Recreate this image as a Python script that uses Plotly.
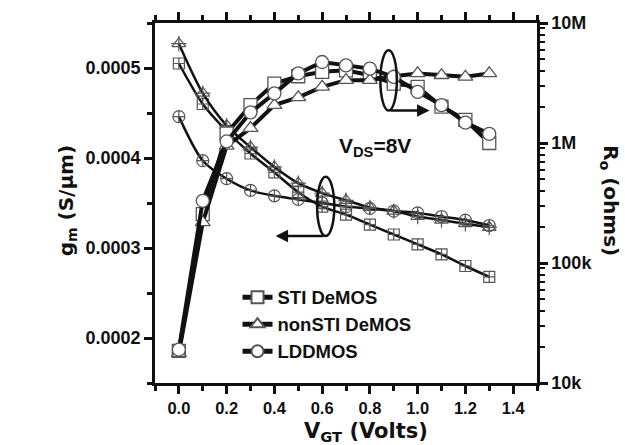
import plotly.graph_objects as go

# Gate overdrive voltage (V)
vgt = [0.0, 0.1, 0.2, 0.3, 0.4, 0.5, 0.6, 0.7, 0.8, 0.9, 1.0, 1.1, 1.2, 1.3]

# Transconductance g_m (S/um)
gm_sti = [0.000505, 0.000460, 0.000430, 0.000405, 0.000384, 0.000362, 0.000346,
          0.000337, 0.000326, 0.000315, 0.000304, 0.000293, 0.000280, 0.000268]
gm_nonsti = [0.000527, 0.000472, 0.000436, 0.000412, 0.000390, 0.000372, 0.000361,
             0.000353, 0.000345, 0.000341, 0.000335, 0.000331, 0.000327, 0.000323]
gm_ldd = [0.000446, 0.000397, 0.000377, 0.000364, 0.000358, 0.000354, 0.000350,
          0.000346, 0.000344, 0.000341, 0.000339, 0.000335, 0.000331, 0.000325]

# Output resistance R_o (ohms)
ro_sti = [18.5e3, 255e3, 1.2e6, 2.07e6, 3.13e6, 3.6e6, 3.92e6,
          4.03e6, 3.67e6, 3.13e6, 2.94e6, 2.01e6, 1.56e6, 1.0e6]
ro_nonsti = [17.7e3, 218e3, 0.945e6, 1.33e6, 2.07e6, 2.4e6, 2.94e6,
             3.34e6, 3.34e6, 3.6e6, 3.8e6, 3.67e6, 3.56e6, 3.8e6]
ro_ldd = [19e3, 330e3, 1.03e6, 1.8e6, 2.59e6, 3.8e6, 4.73e6,
          4.43e6, 4.17e6, 3.56e6, 2.67e6, 2.07e6, 1.48e6, 1.19e6]

names = ["STI DeMOS", "nonSTI DeMOS", "LDDMOS"]
ro_tick_vals = [1e4, 1e5, 1e6, 1e7]
ro_tick_text = ["10k", "100k", "1M", "10M"]

FONT = "Liberation Sans, Arial, sans-serif"
WIDE = "DejaVu Sans, Verdana, sans-serif"
INK = "#111111"
MK = "#555555"

fig = go.Figure()

# g_m curves (left axis): smooth lines with crossed markers
gm_sets = [(gm_sti, "square-cross-open", 11), (gm_nonsti, "triangle-up-open", 12),
           (gm_ldd, "circle-cross-open", 12)]
for vals, sym, sz in gm_sets:
    fig.add_trace(go.Scatter(
        x=vgt, y=vals, mode="lines+markers", showlegend=False,
        line=dict(color=INK, width=2.5, shape="spline", smoothing=0.8),
        marker=dict(symbol=sym, size=sz, color=MK, line=dict(width=1.2, color=MK)),
        yaxis="y"))
# cross inside the triangles
fig.add_trace(go.Scatter(
    x=vgt, y=gm_nonsti, mode="markers", showlegend=False,
    marker=dict(symbol="cross-thin-open", size=11, color=MK, line=dict(width=1.2, color=MK)),
    yaxis="y"))

# R_o curves (right axis, log scale)
ro_sets = [(ro_sti, "square"), (ro_nonsti, "triangle-up"), (ro_ldd, "circle")]
for name, (vals, sym) in zip(names, ro_sets):
    fig.add_trace(go.Scatter(
        x=vgt, y=vals, mode="lines+markers", name=name,
        line=dict(color=INK, width=4),
        marker=dict(symbol=sym, size=13, color="white", line=dict(width=1.3, color=MK)),
        yaxis="y2"))

def bold(size, family=FONT):
    return dict(family=family, size=size, color=INK, weight="bold")

fig.update_layout(
    width=625, height=445,
    margin=dict(l=155, r=88, t=20, b=62),
    paper_bgcolor="white", plot_bgcolor="white",
    showlegend=True,
    legend=dict(x=0.216, y=0.29, xanchor="left", yanchor="top",
                bgcolor="rgba(0,0,0,0)", font=bold(18.5),
                tracegroupgap=0, itemsizing="constant"),
    xaxis=dict(range=[-0.1, 1.5], tickvals=[0.0, 0.2, 0.4, 0.6, 0.8, 1.0, 1.2, 1.4],
               tickformat=".1f", ticks="outside", ticklen=8, tickwidth=2.5, tickcolor=INK,
               minor=dict(ticks="outside", ticklen=5, tickwidth=2.5, dtick=0.1, tickcolor=INK),
               showline=True, linewidth=2.5, linecolor=INK, mirror="ticks",
               showgrid=False, zeroline=False, tickfont=bold(16.5)),
    yaxis=dict(range=[0.00015, 0.00055], tickvals=[0.0002, 0.0003, 0.0004, 0.0005],
               tickformat=".4f", ticks="outside", ticklen=8, tickwidth=2.5, tickcolor=INK,
               minor=dict(ticks="outside", ticklen=5, tickwidth=2.5, dtick=0.00005, tickcolor=INK),
               showline=True, linewidth=2.5, linecolor=INK,
               showgrid=False, zeroline=False, tickfont=bold(18)),
    yaxis2=dict(type="log", range=[4, 7], overlaying="y", side="right",
                tickvals=ro_tick_vals, ticktext=ro_tick_text,
                ticks="outside", ticklen=8, tickwidth=2.5, tickcolor=INK,
                minor=dict(ticks="outside", ticklen=5, tickwidth=2, dtick="D1", tickcolor=INK),
                showline=True, linewidth=2.5, linecolor=INK,
                showgrid=False, zeroline=False, tickfont=bold(18)),
)

# axis titles
fig.add_annotation(xref="paper", yref="paper", x=0.552, y=-0.135,
                   xanchor="center", yanchor="middle",
                   text="V<sub>GT</sub> (Volts)", showarrow=False, font=bold(21, WIDE))
fig.add_annotation(xref="paper", yref="paper", x=-0.230, y=0.505, textangle=-90,
                   xanchor="center", yanchor="middle",
                   text="g<sub>m</sub> (S/\u03bcm)", showarrow=False, font=bold(20, WIDE))
fig.add_annotation(xref="paper", yref="paper", x=1.191, y=0.505, textangle=90,
                   xanchor="center", yanchor="middle",
                   text="R<sub>o</sub> (ohms)", showarrow=False, font=bold(20, WIDE))

fig.add_annotation(xref="x", yref="y", x=0.82, y=0.000412, text="V<sub>DS</sub>=8V",
                   showarrow=False, font=bold(21))

# ellipse grouping the R_o curves, arrow pointing to the right axis
fig.add_shape(type="circle", xref="x", yref="y", x0=0.844, x1=0.913,
              y0=0.0004527, y1=0.0005198, line=dict(color=INK, width=2.5))
fig.add_annotation(xref="x", yref="y", axref="x", ayref="y",
                   x=1.05, y=0.0004527, ax=0.88, ay=0.0004527, text="",
                   showarrow=True, arrowhead=2, arrowsize=1, arrowwidth=2.5, arrowcolor=INK)

# ellipse grouping the g_m curves, arrow pointing to the left axis
fig.add_shape(type="circle", xref="x", yref="y", x0=0.579, x1=0.651,
              y0=0.0003132, y1=0.0003791, line=dict(color=INK, width=2.5))
fig.add_annotation(xref="x", yref="y", axref="x", ayref="y",
                   x=0.405, y=0.0003132, ax=0.612, ay=0.0003132, text="",
                   showarrow=True, arrowhead=2, arrowsize=1, arrowwidth=2.5, arrowcolor=INK)

fig.write_html("out.html")
